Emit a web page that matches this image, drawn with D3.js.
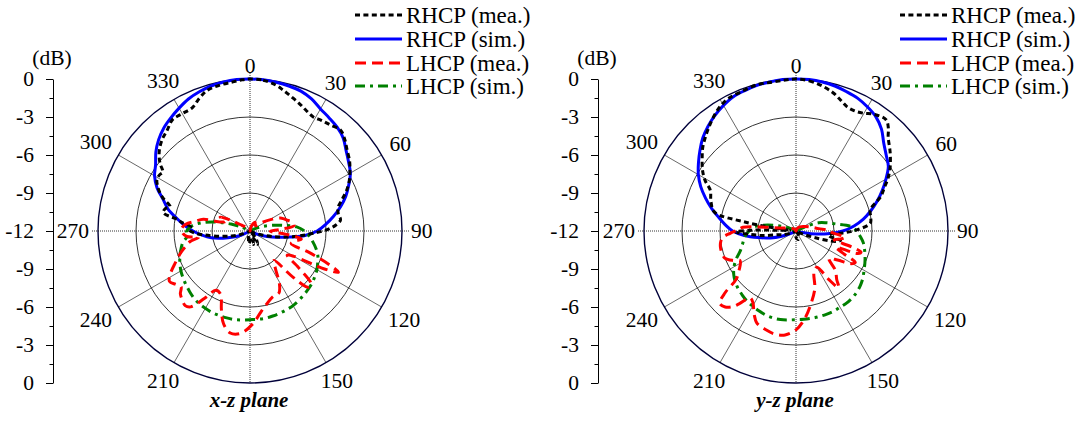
<!DOCTYPE html>
<html><head><meta charset="utf-8">
<script src="https://cdn.jsdelivr.net/npm/d3@7"></script>
<style>
html,body{margin:0;padding:0;background:#fff;}
svg{display:block;}
text{font-family:"Liberation Serif","Times New Roman",serif;fill:#000;}
</style></head><body>
<svg id="chart" width="1084" height="421"></svg>
<script>
// ---------------- DATA ----------------
const dbDomain = [-12, 0];
const ringLevels = [-9, -6, -3, 0];
const angleLabels = [0, 30, 60, 90, 120, 150, 210, 240, 270, 300, 330];
const spokeAngles = [30, 60, 120, 150, 210, 240, 300, 330];
const axisTickLabels = ["0", "-3", "-6", "-9", "-12", "-9", "-6", "-3", "0"];
const legendLabels = ["RHCP (mea.)", "RHCP (sim.)", "LHCP (mea.)", "LHCP (sim.)"];
const planeTitles = ["x-z plane", "y-z plane"];
const simAngles = d3.range(0, 360, 5);

// x-z plane
const xzRhcpSim = [0,-0.02,-0.08,-0.15,-0.25,-0.5,-0.87,-1.1,-1.3,-1.6,-2.1,-2.5,
  -2.85,-3.4,-3.95,-4.6,-5.3,-6.0,-6.7,-7.7,-9.2,-10.2,-10.9,-11.5,
  -12,-12,-12,-12,-12,-12,-12,-12,-12,-12,-12,-12,-12,-12,-12,-12,-12,-12,-12,-12,-12,-12,-12,-12,-12,
  -11.2,-10.6,-9.8,-8.9,-8.2,-7.5,-6.8,-6.1,-5.3,-4.7,-3.9,-3.3,
  -2.9,-2.3,-1.8,-1.4,-1.1,-0.8,-0.5,-0.3,-0.15,-0.05,0];
const xzLhcpSim = [-12,-12,-12,-12,-12,-12,-12,-12,-12,-12,-12,-12,-12,
  -11.5,-11,-10.3,-9.4,-8.3,-7.7,-7.3,-6.95,-6.6,-6.3,-6.1,-5.9,-5.75,-5.6,-5.5,-5.4,-5.3,-5.2,
  -5.15,-5.1,-5.05,-5.0,-5.0,-5.0,-4.95,-4.9,-4.9,-4.9,-4.9,-4.95,-5.0,-5.1,-5.25,-5.4,-5.55,-5.7,
  -5.9,-6.1,-6.35,-6.6,-7.0,-7.0,-7.4,-8.2,-9.3,-10.4,-11.3,
  -12,-12,-12,-12,-12,-12,-12,-12,-12,-12,-12,-12];
const xzRhcpMeaAngles = [0,5,10,13,17,21,25,29,33,37,42,46,50,55,59,63,67,71,75,79,83,86,89,92,95,98.5,103,108,115,125,140,150,158,165,175,185,195,210,240,250,255,260,265,268,271,274,277,279,282,285,287,291,295,299,302,304,307,311,316,320.6,325,330,335,339,343,348,353.5,357];
const xzRhcpMea = [0,-0.05,-0.3,-0.55,-0.9,-1.2,-1.5,-1.7,-1.6,-1.5,-1.3,-1.6,-2.0,-2.4,-2.8,-3.2,-3.7,-4.3,-4.8,-4.9,-4.8,-5.2,-5.9,-7.0,-7.9,-8.8,-10,-11,-11.6,-12,-11.3,-10.8,-11.5,-10.9,-11.3,-11.0,-11.6,-12,-12,-11.2,-10.5,-9.6,-8.4,-7.6,-7.2,-7.3,-6.6,-6.2,-5.0,-5.1,-5.4,-4.6,-4.0,-3.6,-3.6,-3.7,-3.1,-2.5,-2.0,-1.7,-1.3,-1.3,-1.25,-0.8,-0.4,-0.25,-0.15,-0.05];
const xzLhcpMeaAngles = [0,15,30,45,55,62,68,73,78,83,87,91,95,99,103,107,110,113,115,117,120,123,127,131,134,137,141,146,151,155,161,167,172,178,185,191,196,200,205,210,214,218,221,225,228,231,234,238,242,247,252,256,260,263,265,268,272,276,280,284,287,291,295,299,305,320,340];
const xzLhcpMea = [-12,-11.6,-11.2,-11.4,-10.8,-10.0,-9.3,-9.0,-8.6,-8.5,-9.6,-10.4,-9.2,-7.9,-8.4,-8.6,-7.0,-5.2,-4.3,-5.4,-8.0,-8.5,-7.2,-5.6,-5.6,-7.0,-9.0,-8.4,-7.2,-6.6,-6.5,-6.1,-5.6,-4.7,-3.9,-3.8,-4.4,-5.4,-6.5,-6.6,-5.6,-4.4,-4.2,-4.4,-4.6,-5.0,-4.8,-4.5,-4.9,-5.6,-6.2,-6.7,-7.2,-7.9,-7.0,-6.7,-6.6,-6.9,-7.6,-8.2,-9.6,-9.9,-9.4,-10.2,-11.2,-11.7,-12];

// y-z plane
const yzRhcpSim = [0,0,-0.05,-0.15,-0.3,-0.45,-0.7,-1.0,-1.5,-2.2,-2.7,-3.1,-3.8,-4.5,-5.2,-5.9,-6.6,-7.4,-8.3,-9.5,-10.8,-11.6,
  -12,-12,-12,-12,-12,-12,-12,-12,-12,-12,-12,-12,-12,-12,-12,-12,-12,-12,-12,-12,-12,-12,-12,-12,-12,-12,-12,
  -11.5,-10.8,-9.9,-9.0,-7.9,-7.0,-6.4,-5.8,-5.1,-4.4,-3.7,-3.1,-2.6,-2.1,-1.6,-1.2,-0.85,-0.55,-0.3,-0.2,-0.1,-0.05,0];
const yzLhcpSim = [-12,-12,-12,-12,-12,-12,-12,-12,-12,-12,-12,-12,-12,
  -11.3,-10.1,-9.5,-8.8,-7.7,-7.2,-6.9,-6.6,-6.4,-6.2,-6.0,-5.8,-5.55,-5.35,-5.2,-5.1,-5.05,-5.05,
  -5.0,-5.0,-5.0,-5.0,-5.0,-5.0,-4.95,-4.9,-4.9,-4.95,-5.05,-5.15,-5.25,-5.4,-5.55,-5.75,-6.0,-6.35,
  -6.8,-7.3,-7.6,-7.8,-8.0,-8.3,-8.6,-9.4,-10.3,-11.0,-11.6,
  -12,-12,-12,-12,-12,-12,-12,-12,-12,-12,-12,-12];
const yzRhcpMeaAngles = [0,5,10,15,19,22.4,26,29.6,34,39,42,44.4,50,55.7,60,63.7,68,74,79,84,89,92.4,96,99,102,105,109,115,125,150,165,180,200,240,248,254,258,262,266,269,271,273,276,278,280,283,289,295.5,299,303,308,312,316,320,324,328.5,333,338,345,351,356];
const yzRhcpMea = [0,-0.1,-0.35,-0.7,-1.1,-1.4,-1.45,-1.3,-0.9,-0.7,-1.1,-1.6,-2.3,-3.0,-3.6,-4.2,-4.8,-5.9,-6.0,-6.1,-7.2,-8.3,-9.4,-9.3,-8.4,-8.8,-10.3,-11.5,-12,-11.6,-11.3,-11.5,-12,-12,-11.6,-10.9,-10.6,-9.4,-8.3,-7.2,-8.5,-11,-11.5,-10.3,-7.9,-5.4,-4.9,-4.5,-3.8,-3.2,-2.6,-2.1,-1.7,-1.3,-0.9,-0.5,-0.25,-0.2,-0.05,-0.1,-0.05];
const yzLhcpMeaAngles = [0,30,60,75,84,89,93,97,100,103,106,108,110,112,115,118,121,125,130,135,140,143,146,150,156,162,168,174,180,186,192,197,203,207,211,214.5,218,220,223,226.5,229,231,236,242,245,249,253,258,262,265,268,271,274,277,281,290,320,350];
const yzLhcpMea = [-12,-11.7,-11.3,-10.8,-10.2,-9.4,-9.1,-8.1,-8.4,-8.9,-7.4,-6.6,-6.8,-8.6,-8.0,-6.7,-7.0,-8.0,-8.6,-7.6,-7.0,-6.4,-7.4,-8.7,-8.5,-7.2,-6.2,-5.1,-4.2,-3.75,-3.7,-3.85,-4.1,-4.7,-5.4,-5.6,-4.7,-4.2,-3.8,-3.7,-4.6,-5.9,-6.6,-7.0,-6.5,-6.0,-5.9,-5.9,-6.0,-6.2,-6.8,-7.4,-7.8,-9.5,-10.8,-11.3,-11.8,-12];

// ---------------- DRAW ----------------
const svg = d3.select("#chart");
const R = 152, CY = 231;
const FONT = 21.5;
const LEGEND_FONT = 23;
const styles = [
  {color: "#000000", dash: "5,3.4", width: 3},
  {color: "#0000ff", dash: null, width: 3},
  {color: "#ff0000", dash: "11,6", width: 3},
  {color: "#008000", dash: "10,5,3,5", width: 3}
];
const zip = (a, v) => a.map((d, i) => ({a: d, v: v[i]}));
const panels = [
  {cx: 250, axisX: 53, legendX: 355, title: planeTitles[0],
   series: [zip(xzRhcpMeaAngles, xzRhcpMea), zip(simAngles, xzRhcpSim), zip(xzLhcpMeaAngles, xzLhcpMea), zip(simAngles, xzLhcpSim)]},
  {cx: 796, axisX: 598, legendX: 900, title: planeTitles[1],
   series: [zip(yzRhcpMeaAngles, yzRhcpMea), zip(simAngles, yzRhcpSim), zip(yzLhcpMeaAngles, yzLhcpMea), zip(simAngles, yzLhcpSim)]}
];

const rScale = d3.scaleLinear().domain(dbDomain).range([0, R]).clamp(true);
const rad = d => d * Math.PI / 180;

panels.forEach(p => {
  const g = svg.append("g").attr("transform", `translate(${p.cx},${CY})`);
  g.selectAll("circle.ring").data(ringLevels).join("circle")
    .attr("r", d => rScale(d)).attr("fill", "none")
    .attr("stroke", d => d === 0 ? "#00003a" : "#000")
    .attr("stroke-width", d => d === 0 ? 1.4 : 0.8);
  g.selectAll("line.spoke").data(spokeAngles).join("line")
    .attr("x1", 0).attr("y1", 0)
    .attr("x2", d => R * Math.sin(rad(d))).attr("y2", d => -R * Math.cos(rad(d)))
    .attr("stroke", "#000").attr("stroke-width", 0.6);
  g.append("line").attr("x1", -R - 6).attr("x2", R + 7).attr("y1", 0).attr("y2", 0)
    .attr("stroke", "#000").attr("stroke-width", 0.8).attr("stroke-dasharray", "1,1");
  g.append("line").attr("x1", 0).attr("x2", 0).attr("y1", -R - 6).attr("y2", R)
    .attr("stroke", "#000").attr("stroke-width", 0.8).attr("stroke-dasharray", "1,1");
  angleLabels.forEach(a => {
    const t = g.append("text").text(String(a)).attr("font-size", FONT)
      .attr("text-anchor", "middle").attr("dominant-baseline", "central");
    const w = t.node().getComputedTextLength();
    const s = Math.abs(Math.sin(rad(a))), c = Math.abs(Math.cos(rad(a)));
    const off = R + 6 + 3 * s + s * w / 2 + c * 7;
    t.attr("x", off * Math.sin(rad(a))).attr("y", -off * Math.cos(rad(a)));
  });
  const line = d3.lineRadial().angle(d => rad(d.a)).radius(d => rScale(d.v))
    .curve(d3.curveCatmullRomClosed.alpha(0.5));
  [1, 3, 0, 2].forEach(i => {
    const st = styles[i];
    g.append("path").datum(p.series[i]).attr("d", line)
      .attr("fill", "none").attr("stroke", st.color).attr("stroke-width", st.width)
      .attr("stroke-dasharray", st.dash).attr("stroke-linejoin", "round");
  });
  const yScale = d3.scaleLinear().domain([0, 24]).range([CY - R, CY + R]);
  const majors = d3.range(0, 25, 3);
  const minors = d3.range(1.5, 24, 3);
  const ax = svg.append("g").attr("transform", `translate(${p.axisX},0)`)
    .call(d3.axisLeft(yScale).tickValues(majors).tickSize(7).tickSizeOuter(0).tickPadding(12)
      .tickFormat((d, i) => axisTickLabels[i]));
  ax.selectAll("text").attr("font-size", FONT).attr("font-family", "Liberation Serif, serif").attr("fill", "#000");
  ax.selectAll("path,line").attr("stroke", "#000").attr("stroke-width", 1);
  const axm = svg.append("g").attr("transform", `translate(${p.axisX},0)`)
    .call(d3.axisLeft(yScale).tickValues(minors).tickSize(3.5).tickSizeOuter(0).tickFormat(""));
  axm.select("path").remove();
  axm.selectAll("line").attr("stroke", "#000").attr("stroke-width", 1);
  svg.append("text").text("(dB)").attr("x", p.axisX - 1).attr("y", 65)
    .attr("text-anchor", "middle").attr("font-size", FONT);
  svg.append("text").text(p.title).attr("x", p.cx - 1).attr("y", 407)
    .attr("text-anchor", "middle").attr("font-size", 21)
    .attr("font-weight", "bold").attr("font-style", "italic");
  const legY = [15, 39, 63, 86];
  legendLabels.forEach((lab, i) => {
    const st = styles[i];
    svg.append("line").attr("x1", p.legendX).attr("x2", p.legendX + 47)
      .attr("y1", legY[i]).attr("y2", legY[i])
      .attr("stroke", st.color).attr("stroke-width", st.width).attr("stroke-dasharray", st.dash);
    svg.append("text").text(lab).attr("x", p.legendX + 51).attr("y", legY[i])
      .attr("dominant-baseline", "central").attr("font-size", LEGEND_FONT);
  });
});
</script>
</body></html>
